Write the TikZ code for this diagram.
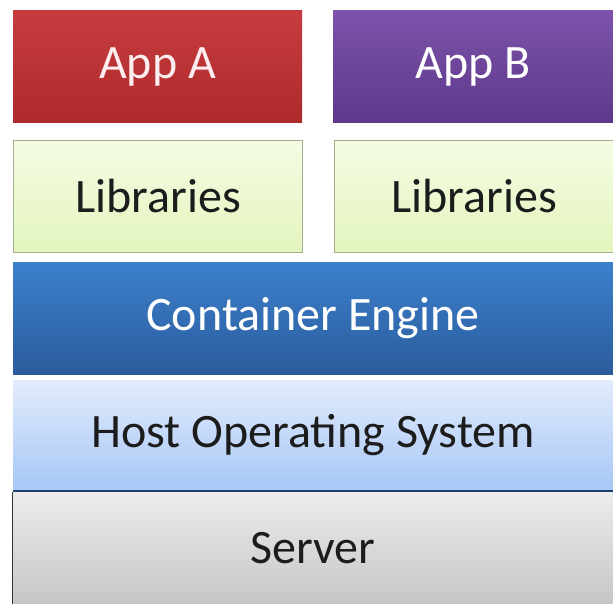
\documentclass[tikz,border=0pt]{standalone}
\usepackage{fontspec}
\setmainfont{Carlito}
\definecolor{redT}{HTML}{C63C3E}
\definecolor{redB}{HTML}{AE2A2C}
\definecolor{purT}{HTML}{7C52AA}
\definecolor{purB}{HTML}{5D398A}
\definecolor{grnT}{HTML}{F4FCE4}
\definecolor{grnB}{HTML}{E4F5BE}
\definecolor{grnD}{HTML}{A3AE8A}
\definecolor{bluT}{HTML}{3C80CC}
\definecolor{bluB}{HTML}{2A5C9C}
\definecolor{lbT}{HTML}{E2ECFC}
\definecolor{lbB}{HTML}{A6C6F6}
\definecolor{gryT}{HTML}{ECECEC}
\definecolor{gryB}{HTML}{C6C6C6}
\definecolor{txt}{HTML}{1C1C1C}
\definecolor{pinkw}{HTML}{FCEEF0}
\tikzset{
  layer/.style={rectangle, inner sep=0pt, font=\fontsize{48}{52}\selectfont},
  appa/.style={layer, top color=redT, bottom color=redB, text=pinkw},
  appb/.style={layer, top color=purT, bottom color=purB, text=white},
  libbox/.style={layer, top color=grnT, bottom color=grnB, draw=grnD, line width=1pt, text=txt},
  engine/.style={layer, top color=bluT, bottom color=bluB, text=white},
  hostos/.style={layer, top color=lbT, bottom color=lbB, text=txt},
  server/.style={layer, top color=gryT, bottom color=gryB, text=txt},
}
\begin{document}
\begin{tikzpicture}[x=1pt,y=-1pt]
\useasboundingbox[fill=white] (0,0) rectangle (613,604);
\node[appa, minimum width=289pt, minimum height=112pt] (appA) at (157.5,67) {App A};
\node[appb, minimum width=280pt, minimum height=112pt] (appB) at (473,67) {App B};
\node[libbox, minimum width=289pt, minimum height=112pt] (libA) at (158,196.5) {Libraries};
\node[libbox, minimum width=280pt, minimum height=112pt] (libB) at (474,196.5) {Libraries};
\node[engine, minimum width=600pt, minimum height=112pt] (eng) at (313,318) {Container Engine};
\node[hostos, minimum width=600pt, minimum height=111pt] (host) at (313,435.5) {Host Operating System};
\node[server, minimum width=600pt, minimum height=112pt] (srv) at (313,548) {Server};
\draw[bluB!70!black, line width=1.5pt] (host.south west) -- (host.south east);
\draw[black!80, line width=1pt] (srv.north west) -- (srv.south west);
\end{tikzpicture}
\end{document}
